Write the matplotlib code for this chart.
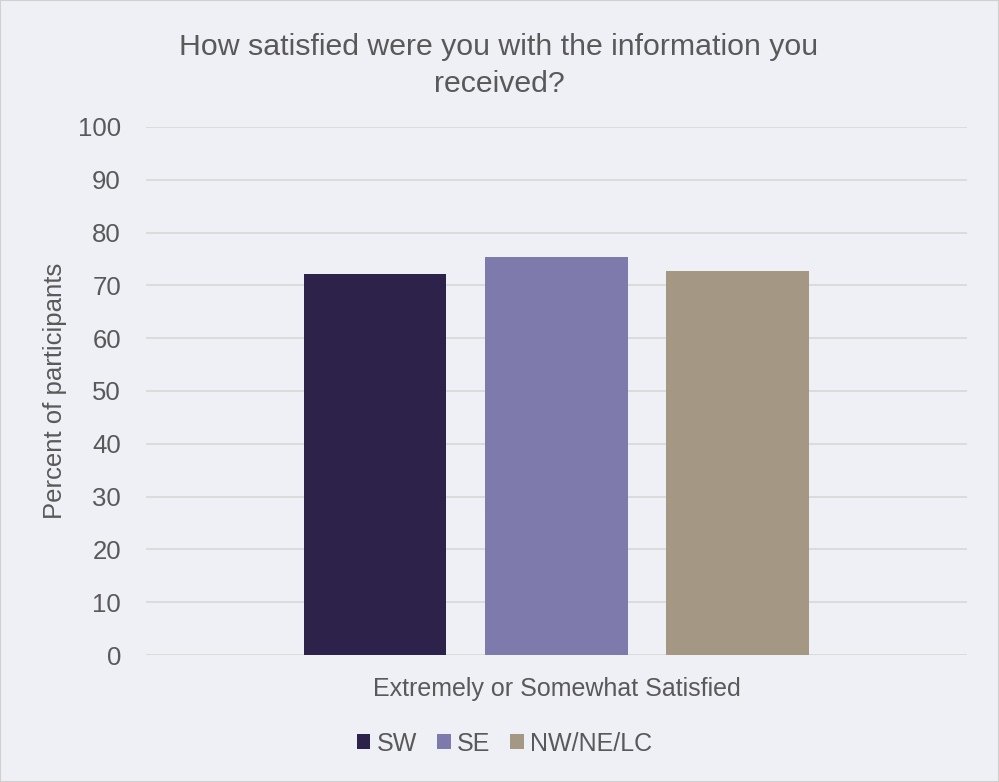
import matplotlib
matplotlib.use("Agg")
import matplotlib.pyplot as plt
from matplotlib.patches import Patch, Rectangle

# Survey results
category = "Extremely or Somewhat Satisfied"
regions = ["SW", "SE", "NW/NE/LC"]
percent = [72.2, 75.4, 72.7]
colors = ["#2D2249", "#7E7AAB", "#A49784"]
yticks = [0, 10, 20, 30, 40, 50, 60, 70, 80, 90, 100]

bg = "#EFF0F5"
text_color = "#595959"
grid_color = "#D9D9D9"

plt.rcParams["font.family"] = ["Liberation Sans", "DejaVu Sans"]

fig = plt.figure(figsize=(9.99, 7.82), dpi=100, facecolor=bg)
fig.patches.append(Rectangle((0, 0), 1, 1, transform=fig.transFigure,
                             fill=False, edgecolor="#D0D0D0", linewidth=1.5))
ax = fig.add_axes([0.1461, 0.1624, 0.8218, 0.6752])
ax.set_facecolor(bg)

bar_w = 0.174
offsets = [-0.221, 0.0, 0.221]
for off, val, col, name in zip(offsets, percent, colors, regions):
    ax.bar(off, val, width=bar_w, color=col, label=name, zorder=3)

ax.set_xlim(-0.5, 0.5)
ax.set_ylim(0, 100)
ax.set_yticks(yticks)
ax.set_yticklabels([str(t) for t in yticks])
ax.set_xticks([0])
ax.set_xticklabels([category])
ax.grid(axis="y", color=grid_color, linewidth=1.3, zorder=0)
for s in ax.spines.values():
    s.set_visible(False)
ax.tick_params(axis="y", length=0, colors=text_color, labelsize=18.5, pad=18)
ax.tick_params(axis="x", length=0, colors=text_color, labelsize=18, pad=16)

ax.set_ylabel("Percent of participants", color=text_color, fontsize=18.5, labelpad=8)

fig.text(0.4995, 0.958, "How satisfied were you with the information you\nreceived?",
         ha="center", va="top", color=text_color, fontsize=21.8, linespacing=1.4)

handles = [Patch(facecolor=c, label=r) for c, r in zip(colors, regions)]
fig.legend(handles=handles, loc="center", bbox_to_anchor=(0.505, 0.049), ncol=3,
           frameon=False, fontsize=18, labelcolor=text_color, handlelength=0.55,
           handleheight=0.55, handletextpad=0.25, columnspacing=0.8)

fig.savefig("out.png", dpi=100, facecolor=bg)
